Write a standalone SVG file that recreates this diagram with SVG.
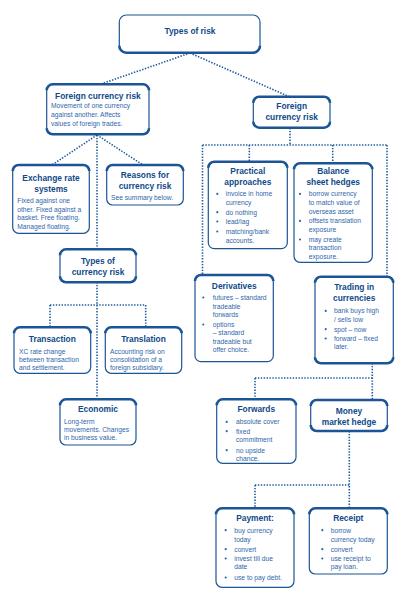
<svg xmlns="http://www.w3.org/2000/svg" width="404" height="600" viewBox="0 0 404 600">
<style>
.bg{fill:#fff}
.box{fill:#fff;stroke:#1b5596;stroke-width:1.2}
.edge{fill:none;stroke:#1b5596;stroke-width:2.6}
.t{font-family:"Liberation Sans",Arial,sans-serif;font-weight:bold;font-size:8.4px;fill:#0f4a8a;text-anchor:middle}
.b{font-family:"Liberation Sans",Arial,sans-serif;font-size:6.7px;fill:#2f66aa}
.dot{fill:#2f66aa}
.conn{fill:none;stroke:#1e5a9c;stroke-width:1.6;stroke-dasharray:1.4 1.5}
</style>
<rect class="bg" width="404" height="600"/>
<g id="connectors">
<path class="conn" d="M190 53 L101 84 M190 53 L290 97"/>
<path class="conn" d="M290 128 V145 M202.5 145 H387 M202.5 145 V275 M249.3 145 V162 M332.7 145 V163 M387 145 V277"/>
<path class="conn" d="M97 135 L52 165 M97 135 L143 165 M97 135 V249 M97 282 V399"/>
<path class="conn" d="M50 305 H145.7 M50 305 V327 M145.7 305 V327"/>
<path class="conn" d="M372.3 363 V400 M255 378 H372.3 M255 378 V399"/>
<path class="conn" d="M349.3 431 V508 M255 485 H349.3 M255 485 V508"/>
</g>
<g id="types-of-risk">
<rect class="box" x="119.3" y="15" width="140.7" height="37.7" rx="7"/>
<path class="edge" d="M119.3 45.7 A7 7 0 0 0 126.3 52.7 H253 A7 7 0 0 0 260 45.7"/>
<text class="t" x="190" y="34">Types of risk</text>
</g>
<g id="fcr-left">
<rect class="box" x="46.7" y="84.3" width="102.3" height="50" rx="6"/>
<path class="edge" d="M46.7 90.3 A6 6 0 0 1 52.7 84.3 H143 A6 6 0 0 1 149 90.3 M46.7 128.3 A6 6 0 0 0 52.7 134.3 H143 A6 6 0 0 0 149 128.3"/>
<text class="t" x="97.9" y="98.7">Foreign currency risk</text>
<text class="b" x="51" y="108.2">Movement of one currency</text>
<text class="b" x="51" y="116.9">against another. Affects</text>
<text class="b" x="51" y="125.6">values of foreign trades.</text>
</g>
<g id="fcr-right">
<rect class="box" x="253.3" y="96.7" width="76.7" height="31" rx="6"/>
<path class="edge" d="M253.3 102.7 A6 6 0 0 1 259.3 96.7 H324 A6 6 0 0 1 330 102.7 M253.3 121.7 A6 6 0 0 0 259.3 127.7 H324 A6 6 0 0 0 330 121.7"/>
<text class="t" x="291.7" y="108.7">Foreign</text>
<text class="t" x="291.7" y="119.7">currency risk</text>
</g>
<g id="exchange-rate-systems">
<rect class="box" x="12.7" y="165" width="76.6" height="68.3" rx="6"/>
<path class="edge" d="M12.7 171 A6 6 0 0 1 18.7 165 H83.3 A6 6 0 0 1 89.3 171"/>
<text class="t" x="51" y="180.7">Exchange rate</text>
<text class="t" x="51" y="192">systems</text>
<text class="b" x="17.3" y="203.2">Fixed against one</text>
<text class="b" x="17.3" y="211.8">other. Fixed against a</text>
<text class="b" x="17.3" y="220.2">basket. Free floating.</text>
<text class="b" x="17.3" y="228.5">Managed floating.</text>
</g>
<g id="reasons">
<rect class="box" x="106.7" y="165" width="76.6" height="40" rx="6"/>
<path class="edge" d="M106.7 171 A6 6 0 0 1 112.7 165 H177.3 A6 6 0 0 1 183.3 171"/>
<text class="t" x="145" y="178">Reasons for</text>
<text class="t" x="145" y="188.7">currency risk</text>
<text class="b" x="111" y="200.2">See summary below.</text>
</g>
<g id="types-of-currency-risk">
<rect class="box" x="60" y="249.3" width="76" height="33" rx="6"/>
<path class="edge" d="M60 255.3 A6 6 0 0 1 66 249.3 H130 A6 6 0 0 1 136 255.3 M60 276.3 A6 6 0 0 0 66 282.3 H130 A6 6 0 0 0 136 276.3"/>
<text class="t" x="98" y="264">Types of</text>
<text class="t" x="98" y="274.7">currency risk</text>
</g>
<g id="transaction">
<rect class="box" x="14" y="327.3" width="76.7" height="46" rx="6"/>
<path class="edge" d="M14 333.3 A6 6 0 0 1 20 327.3 H84.7 A6 6 0 0 1 90.7 333.3"/>
<text class="t" x="52.3" y="342">Transaction</text>
<text class="b" x="19" y="353.5">XC rate change</text>
<text class="b" x="19" y="361.8">between transaction</text>
<text class="b" x="19" y="369.8">and settlement.</text>
</g>
<g id="translation">
<rect class="box" x="105.3" y="327.3" width="76.4" height="46" rx="6"/>
<path class="edge" d="M105.3 333.3 A6 6 0 0 1 111.3 327.3 H175.7 A6 6 0 0 1 181.7 333.3"/>
<text class="t" x="143.5" y="342">Translation</text>
<text class="b" x="110" y="353.5">Accounting risk on</text>
<text class="b" x="110" y="361.8">consolidation of a</text>
<text class="b" x="110" y="369.8">foreign subsidiary.</text>
</g>
<g id="economic">
<rect class="box" x="60" y="399.3" width="76" height="45.7" rx="6"/>
<path class="edge" d="M60 405.3 A6 6 0 0 1 66 399.3 H130 A6 6 0 0 1 136 405.3"/>
<text class="t" x="98" y="412">Economic</text>
<text class="b" x="64" y="423.5">Long-term</text>
<text class="b" x="64" y="431.8">movements. Changes</text>
<text class="b" x="64" y="440.2">in business value.</text>
</g>
<g id="practical-approaches">
<rect class="box" x="208.3" y="161.7" width="79" height="87" rx="6"/>
<path class="edge" d="M208.3 167.7 A6 6 0 0 1 214.3 161.7 H281.3 A6 6 0 0 1 287.3 167.7"/>
<text class="t" x="247.8" y="173.7">Practical</text>
<text class="t" x="247.8" y="185.3">approaches</text>
<circle class="dot" cx="217.3" cy="193.9" r="1.1"/>
<circle class="dot" cx="217.3" cy="212.2" r="1.1"/>
<circle class="dot" cx="217.3" cy="221.5" r="1.1"/>
<circle class="dot" cx="217.3" cy="231.5" r="1.1"/>
<text class="b" x="225.7" y="196.2">invoice in home</text>
<text class="b" x="225.7" y="204.8">currency</text>
<text class="b" x="225.7" y="214.5">do nothing</text>
<text class="b" x="225.7" y="223.8">lead/lag</text>
<text class="b" x="225.7" y="233.8">matching/bank</text>
<text class="b" x="225.7" y="242.5">accounts.</text>
</g>
<g id="balance-sheet-hedges">
<rect class="box" x="294" y="163.3" width="78.3" height="99" rx="6"/>
<path class="edge" d="M294 169.3 A6 6 0 0 1 300 163.3 H366.3 A6 6 0 0 1 372.3 169.3"/>
<text class="t" x="333.2" y="173.7">Balance</text>
<text class="t" x="333.2" y="185">sheet hedges</text>
<circle class="dot" cx="300" cy="193.9" r="1.1"/>
<circle class="dot" cx="300" cy="220.9" r="1.1"/>
<circle class="dot" cx="300" cy="239.5" r="1.1"/>
<text class="b" x="308.7" y="196.2">borrow currency</text>
<text class="b" x="308.7" y="204.8">to match value of</text>
<text class="b" x="308.7" y="213.5">overseas asset</text>
<text class="b" x="308.7" y="223.2">offsets translation</text>
<text class="b" x="308.7" y="231.8">exposure</text>
<text class="b" x="308.7" y="241.8">may create</text>
<text class="b" x="308.7" y="250.2">transaction</text>
<text class="b" x="308.7" y="259.2">exposure.</text>
</g>
<g id="derivatives">
<rect class="box" x="195" y="275" width="78.3" height="86.7" rx="6"/>
<path class="edge" d="M195 281 A6 6 0 0 1 201 275 H267.3 A6 6 0 0 1 273.3 281"/>
<text class="t" x="234.2" y="288.7">Derivatives</text>
<circle class="dot" cx="203.3" cy="297.5" r="1.1"/>
<circle class="dot" cx="203.3" cy="324.5" r="1.1"/>
<text class="b" x="212.7" y="299.8">futures – standard</text>
<text class="b" x="212.7" y="309.2">tradeable</text>
<text class="b" x="212.7" y="316.8">forwards</text>
<text class="b" x="212.7" y="326.8">options</text>
<text class="b" x="212.7" y="335.2">– standard</text>
<text class="b" x="212.7" y="343.5">tradeable but</text>
<text class="b" x="212.7" y="351.8">offer choice.</text>
</g>
<g id="trading-in-currencies">
<rect class="box" x="315" y="276.7" width="78.3" height="86.6" rx="6"/>
<path class="edge" d="M315 282.7 A6 6 0 0 1 321 276.7 H387.3 A6 6 0 0 1 393.3 282.7 M315 357.3 A6 6 0 0 0 321 363.3 H387.3 A6 6 0 0 0 393.3 357.3"/>
<text class="t" x="354.2" y="290.3">Trading in</text>
<text class="t" x="354.2" y="301.3">currencies</text>
<circle class="dot" cx="325.7" cy="310.9" r="1.1"/>
<circle class="dot" cx="325.7" cy="329.2" r="1.1"/>
<circle class="dot" cx="325.7" cy="338.5" r="1.1"/>
<text class="b" x="334" y="313.2">bank buys high</text>
<text class="b" x="334" y="321.5">/ sells low</text>
<text class="b" x="334" y="331.5">spot – now</text>
<text class="b" x="334" y="340.8">forward – fixed</text>
<text class="b" x="334" y="349.2">later.</text>
</g>
<g id="forwards">
<rect class="box" x="216.7" y="399.3" width="79.3" height="64" rx="6"/>
<path class="edge" d="M216.7 405.3 A6 6 0 0 1 222.7 399.3 H290 A6 6 0 0 1 296 405.3"/>
<text class="t" x="256.3" y="412.3">Forwards</text>
<circle class="dot" cx="226.7" cy="421.9" r="1.1"/>
<circle class="dot" cx="226.7" cy="431.2" r="1.1"/>
<circle class="dot" cx="226.7" cy="450.2" r="1.1"/>
<text class="b" x="236" y="424.2">absolute cover</text>
<text class="b" x="236" y="433.5">fixed</text>
<text class="b" x="236" y="442.2">commitment</text>
<text class="b" x="236" y="452.5">no upside</text>
<text class="b" x="236" y="460.8">chance.</text>
</g>
<g id="money-market-hedge">
<rect class="box" x="310.7" y="400" width="76.6" height="31" rx="6"/>
<path class="edge" d="M310.7 406 A6 6 0 0 1 316.7 400 H381.3 A6 6 0 0 1 387.3 406 M310.7 425 A6 6 0 0 0 316.7 431 H381.3 A6 6 0 0 0 387.3 425"/>
<text class="t" x="349" y="413.7">Money</text>
<text class="t" x="349" y="424.7">market hedge</text>
</g>
<g id="payment">
<rect class="box" x="216" y="508.3" width="78" height="79" rx="6"/>
<path class="edge" d="M216 514.3 A6 6 0 0 1 222 508.3 H288 A6 6 0 0 1 294 514.3"/>
<text class="t" x="255" y="521.3">Payment:</text>
<circle class="dot" cx="225.7" cy="530.2" r="1.1"/>
<circle class="dot" cx="225.7" cy="549.2" r="1.1"/>
<circle class="dot" cx="225.7" cy="558.5" r="1.1"/>
<circle class="dot" cx="225.7" cy="577.5" r="1.1"/>
<text class="b" x="234.3" y="532.5">buy currency</text>
<text class="b" x="234.3" y="541.5">today</text>
<text class="b" x="234.3" y="551.5">convert</text>
<text class="b" x="234.3" y="560.8">invest till due</text>
<text class="b" x="234.3" y="569.2">date</text>
<text class="b" x="234.3" y="579.8">use to pay debt.</text>
</g>
<g id="receipt">
<rect class="box" x="309.3" y="508.3" width="78" height="65.7" rx="6"/>
<path class="edge" d="M309.3 514.3 A6 6 0 0 1 315.3 508.3 H381.3 A6 6 0 0 1 387.3 514.3"/>
<text class="t" x="348.3" y="521.3">Receipt</text>
<circle class="dot" cx="322.3" cy="530.2" r="1.1"/>
<circle class="dot" cx="322.3" cy="549.2" r="1.1"/>
<circle class="dot" cx="322.3" cy="558.5" r="1.1"/>
<text class="b" x="330.7" y="532.5">borrow</text>
<text class="b" x="330.7" y="541.5">currency today</text>
<text class="b" x="330.7" y="551.5">convert</text>
<text class="b" x="330.7" y="560.8">use receipt to</text>
<text class="b" x="330.7" y="569.2">pay loan.</text>
</g>
</svg>
